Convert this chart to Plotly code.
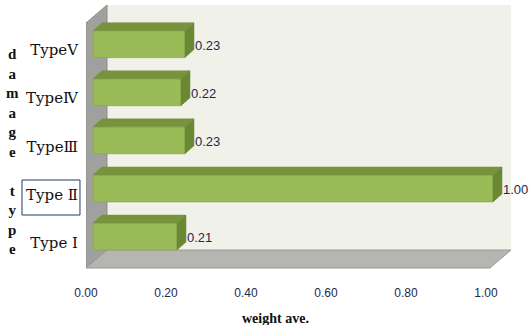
import plotly.graph_objects as go

# ---- data ----
categories = ["Type Ⅰ", "Type Ⅱ", "TypeⅢ", "TypeⅣ", "TypeⅤ"]
values = [0.21, 1.00, 0.23, 0.22, 0.23]
value_labels = ["0.21", "1.00", "0.23", "0.22", "0.23"]
x_ticks = [0.0, 0.2, 0.4, 0.6, 0.8, 1.0]
x_title = "weight ave."
y_title_letters = ["d", "a", "m", "a", "g", "e", " ", "t", "y", "p", "e"]

# ---- styling / geometry constants ----
FRONT = "#9BBB59"
TOP = "#77933C"
SIDE = "#6A8834"
BAR_W = 0.56
BDX, BDY = 0.0225, 0.166      # bar depth (x units, category units)
IX = 0.0175                   # inset of bar plane from front plane
WX, WY = 0.0525, 0.374        # wall depth
FLOOR_Y = -0.655
TOP_Y = 4.813
XMAX = 1.0
TXT = "#1c2a4a"
BOXED = 1  # index of highlighted category (Type II)

idx = list(range(len(categories)))
fig = go.Figure()

# walls (decoration)
fx0 = -IX
fx1 = XMAX - IX + 0.01
bx0, bx1 = fx0 + WX, fx1 + WX
fy_back = FLOOR_Y + WY
shapes = [
    dict(type="path", xref="x", yref="y", layer="below",
         path=f"M{bx0},{fy_back} L{bx0},{TOP_Y} L{bx1},{TOP_Y} L{bx1},{fy_back} Z",
         fillcolor="#F0F2EA", line=dict(width=0)),
    dict(type="path", xref="x", yref="y", layer="below",
         path=f"M{fx0},{FLOOR_Y} L{fx0},{TOP_Y - WY} L{bx0},{TOP_Y} L{bx0},{fy_back} Z",
         fillcolor="#A0A09E", line=dict(width=1, color="#8C8C8C")),
    dict(type="path", xref="x", yref="y", layer="below",
         path=f"M{fx0},{FLOOR_Y} L{fx1},{FLOOR_Y} L{bx1},{fy_back} L{bx0},{fy_back} Z",
         fillcolor="#B5B6B1", line=dict(width=1, color="#9A9A98")),
    # box around Type II label
    dict(type="rect", xref="paper", yref="y", x0=-0.1435, x1=-0.0135,
         y0=BOXED - 0.553, y1=BOXED + 0.175, line=dict(color="#1F3864", width=1)),
]

fig.add_trace(go.Bar(x=values, y=idx, orientation="h", width=BAR_W,
                     marker=dict(color=FRONT, line=dict(color="#8AA84C", width=0.8)),
                     hoverinfo="skip", showlegend=False, xaxis="x", yaxis="y"))

for i, v in zip(idx, values):
    yt, yb = i + BAR_W / 2, i - BAR_W / 2
    fig.add_trace(go.Scatter(
        x=[0, v, v + BDX, BDX, 0], y=[yt, yt, yt + BDY, yt + BDY, yt],
        fill="toself", fillcolor=TOP, mode="lines", line=dict(width=0.5, color=TOP),
        hoverinfo="skip", showlegend=False))
    fig.add_trace(go.Scatter(
        x=[v, v, v + BDX, v + BDX, v], y=[yt, yb, yb + BDY, yt + BDY, yt],
        fill="toself", fillcolor=SIDE, mode="lines", line=dict(width=0.5, color=SIDE),
        hoverinfo="skip", showlegend=False))

# dummy trace for tick axis
fig.add_trace(go.Scatter(x=[0], y=[0], xaxis="x2", mode="markers",
                         marker=dict(opacity=0), hoverinfo="skip", showlegend=False))

annotations = []
for i, v, t in zip(idx, values, value_labels):
    annotations.append(dict(x=v + BDX, y=i, text=t, showarrow=False, xanchor="left",
                            yanchor="middle", xshift=-1, yshift=-1,
                            font=dict(family="Liberation Sans", size=13, color=TXT)))
annotations.append(dict(x=0.455, xref="x", y=-0.136, yref="paper", text=f"<b>{x_title}</b>",
                        showarrow=False, xanchor="center", yanchor="middle",
                        font=dict(family="Liberation Serif", size=14, color="#111")))
stack = "<br>".join(y_title_letters)
annotations.append(dict(x=(12 - 86) / 446, xref="paper", y=(280 - 151) / 280, yref="paper",
                        text=f"<b>{stack}</b>", showarrow=False, xanchor="center",
                        yanchor="middle",
                        font=dict(family="Liberation Serif", size=15, color="#111")))

fig.update_layout(
    width=532, height=325, margin=dict(l=86, r=0, t=0, b=45),
    paper_bgcolor="white", plot_bgcolor="white",
    shapes=shapes, annotations=annotations,
    xaxis=dict(range=[-IX, 1.0975], showgrid=False, zeroline=False, showticklabels=False,
               showline=False, fixedrange=True),
    xaxis2=dict(range=[0, 1.115], overlaying="x", side="bottom", tickvals=x_ticks,
                tickformat=".2f", showgrid=False, zeroline=False, showline=False,
                ticklabelstandoff=4,
                tickfont=dict(family="Liberation Sans", size=12, color=TXT)),
    yaxis=dict(range=[-0.904, 4.917], tickvals=idx, ticktext=categories,
               showgrid=False, zeroline=False, showline=False, ticklabelstandoff=7,
               ticklabelshift=6,
               tickfont=dict(family="DejaVu Serif", size=15, color="#111")),
)

fig.write_html("out.html")
